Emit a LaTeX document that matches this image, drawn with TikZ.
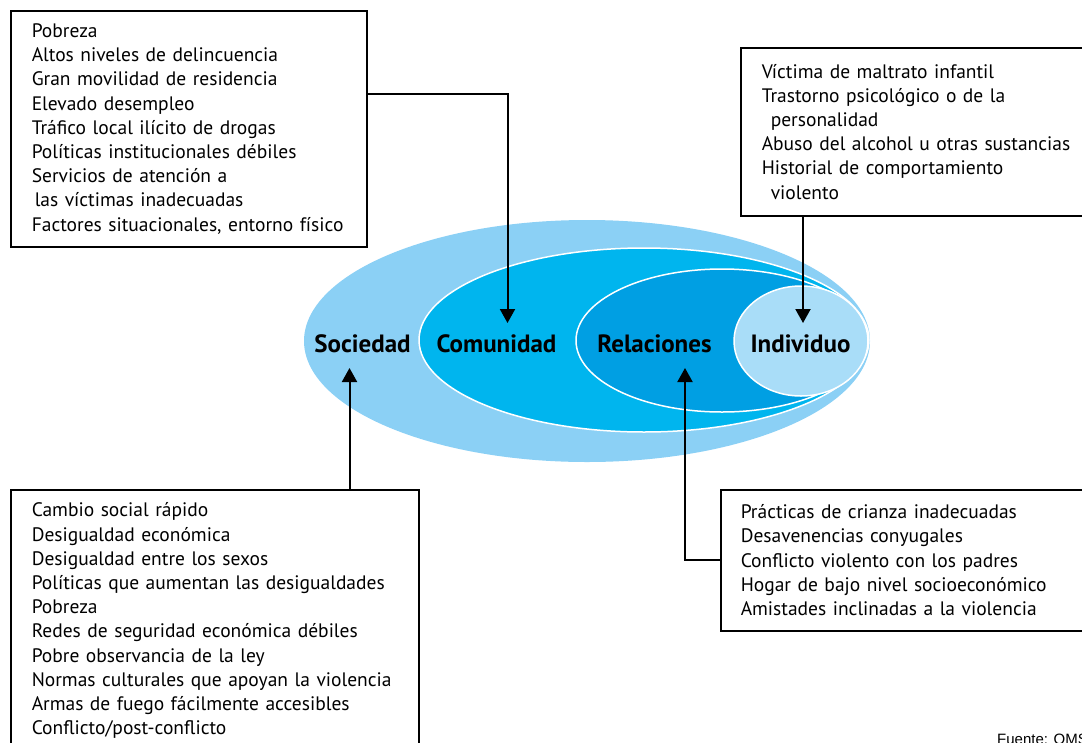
\documentclass[tikz,border=0pt]{standalone}
\usepackage{fontspec}
\setmainfont{PT Sans}
\newfontfamily\fuentefont{Liberation Sans}
\usetikzlibrary{arrows.meta,shapes.geometric}
\definecolor{socC}{HTML}{8BD0F5}
\definecolor{comC}{HTML}{00B5EE}
\definecolor{relC}{HTML}{009FE3}
\definecolor{indC}{HTML}{A9DDF8}
\begin{document}
\begin{tikzpicture}[x=1pt,y=-1pt,
  ring/.style={ellipse, inner sep=0pt, draw=white, line width=1.5pt},
  lab/.style={anchor=base, font=\bfseries\fontsize{25}{28}\selectfont},
  box/.style={draw=black, line width=1.5pt, anchor=north west, align=left,
    inner xsep=21pt, inner ysep=0pt, font=\fontsize{19.5}{24.2}\selectfont},
  arr/.style={line width=2pt, -{Triangle[width=15pt,length=14pt]}}
]
\useasboundingbox (0,0) rectangle (1082,742);
% ellipses
\node[ring, draw=none, fill=socC, minimum width=566pt, minimum height=242pt] (soc) at (587,341) {};
\node[ring, fill=comC, minimum width=450pt, minimum height=184pt] (com) at (644,340) {};
\node[ring, fill=relC, minimum width=292pt, minimum height=143pt] (rel) at (722,340.5) {};
\node[ring, fill=indC, minimum width=134pt, minimum height=110pt] (ind) at (801,341) {};
% labels
\node[lab] (lsoc) at (362.5,352) {Sociedad};
\node[lab] (lcom) at (496.5,352) {Comunidad};
\node[lab] (lrel) at (654.5,352) {Relaciones};
\node[lab] (lind) at (800.5,352) {Individuo};
% boxes
\node[box, text width=314pt, minimum height=236pt] (b1) at (10,10) {%
Pobreza\\
Altos niveles de delincuencia\\
Gran movilidad de residencia\\
Elevado desempleo\\
Tráfico local ilícito de drogas\\
Políticas institucionales débiles\\
Servicios de atención a\\
\hspace*{3pt}las víctimas inadecuadas\\
Factores situacionales, entorno físico};
\node[box, text width=340pt, minimum height=168pt] (b2) at (740,47) {%
Víctima de maltrato infantil\\
Trastorno psicológico o de la\\
\hspace*{9pt}personalidad\\
Abuso del alcohol u otras sustancias\\
Historial de comportamiento\\
\hspace*{9pt}violento};
\node[box, text width=366pt, minimum height=262pt] (b3) at (10,489) {%
Cambio social rápido\\
Desigualdad económica\\
Desigualdad entre los sexos\\
Políticas que aumentan las desigualdades\\
Pobreza\\
Redes de seguridad económica débiles\\
Pobre observancia de la ley\\
Normas culturales que apoyan la violencia\\
Armas de fuego fácilmente accesibles\\
Conflicto/post-conflicto};
\node[box, inner xsep=20pt, text width=360pt, minimum height=141pt] (b4) at (720,489) {%
Prácticas de crianza inadecuadas\\
Desavenencias conyugales\\
Conflicto violento con los padres\\
Hogar de bajo nivel socioeconómico\\
Amistades inclinadas a la violencia};
% arrow targets
\coordinate (t1) at (507.5,323);
\coordinate (t2) at (803,323);
\coordinate (t3) at (349.5,368);
\coordinate (t4) at (685,368);
\coordinate (s1) at (366,94);
% connectors
\draw[arr] (b1.east |- s1) -| (t1);
\draw[arr] (b2.south -| t2) -- (t2);
\draw[arr] (b3.north -| t3) -- (t3);
\draw[arr] (b4.west) -| (t4);
% source
\node[anchor=base west, inner sep=0pt, font=\fuentefont\fontsize{15}{17}\selectfont] (src) at (997,744) {Fuente: OMS};
\end{tikzpicture}
\end{document}
